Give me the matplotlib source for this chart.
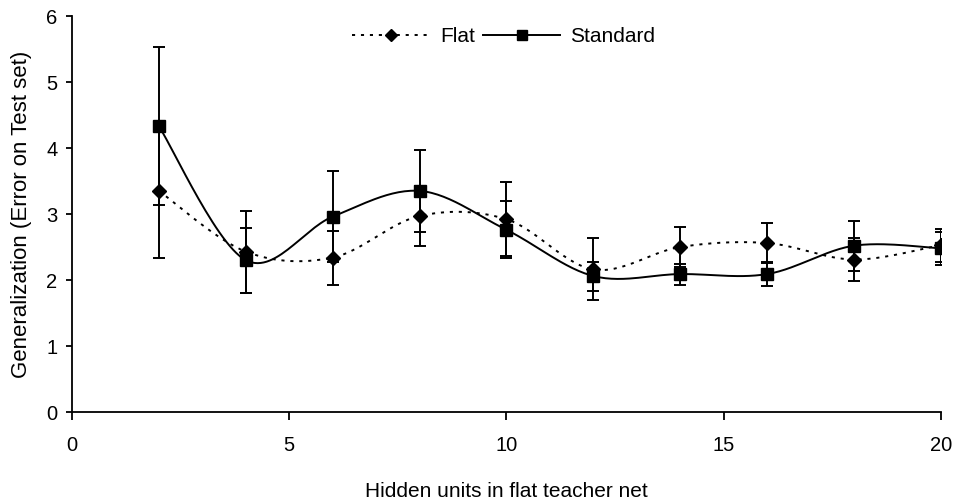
import numpy as np
import matplotlib
matplotlib.use("Agg")
import matplotlib.pyplot as plt
from matplotlib.lines import Line2D

x = [2, 4, 6, 8, 10, 12, 14, 16, 18, 20]
flat = [3.35, 2.43, 2.34, 2.97, 2.92, 2.16, 2.50, 2.56, 2.31, 2.53]
flat_err = [1.02, 0.62, 0.41, 0.45, 0.56, 0.47, 0.30, 0.30, 0.33, 0.25]
standard = [4.33, 2.30, 2.96, 3.35, 2.76, 2.06, 2.09, 2.09, 2.52, 2.48]
standard_err = [1.20, 0.49, 0.69, 0.62, 0.43, 0.22, 0.16, 0.18, 0.38, 0.25]

plt.rcParams['font.family'] = ['Liberation Sans', 'DejaVu Sans']

FS = 14.5
LW = 1.4
DOT = (0, (1.6, 3.0))


def smooth(xs, ys, n=30):
    # Excel-like smoothed line (Catmull-Rom style Bezier)
    xs = np.asarray(xs, float)
    ys = np.asarray(ys, float)
    P = np.column_stack([xs, ys])
    out = []
    for i in range(len(P) - 1):
        p0 = P[i - 1] if i > 0 else P[i]
        p1 = P[i]
        p2 = P[i + 1]
        p3 = P[i + 2] if i + 2 < len(P) else P[i + 1]
        c1 = p1 + (p2 - p0) / 6.0
        c2 = p2 - (p3 - p1) / 6.0
        t = np.linspace(0, 1, n)[:, None]
        b = ((1 - t) ** 3) * p1 + 3 * ((1 - t) ** 2) * t * c1 + 3 * (1 - t) * t ** 2 * c2 + t ** 3 * p2
        out.append(b if i == 0 else b[1:])
    B = np.vstack(out)
    return B[:, 0], B[:, 1]


fig = plt.figure(figsize=(9.56, 5.0), dpi=100)
ax = fig.add_axes([0.0753, 0.176, 0.909, 0.792])

sx, sy = smooth(x, flat)
ax.plot(sx, sy, color='black', lw=LW, ls=DOT)
ax.errorbar(x, flat, yerr=flat_err, fmt='D', color='black', ms=7.5,
            ecolor='black', elinewidth=LW, capsize=4.5, capthick=LW)

sx, sy = smooth(x, standard)
ax.plot(sx, sy, color='black', lw=LW, ls='-')
ax.errorbar(x, standard, yerr=standard_err, fmt='s', color='black', ms=8,
            ecolor='black', elinewidth=LW, capsize=4.5, capthick=LW)

ax.set_xlim(0, 20)
ax.set_ylim(0, 6)
ax.set_xticks([0, 5, 10, 15, 20])
ax.set_yticks([0, 1, 2, 3, 4, 5, 6])
for s in ['top', 'right']:
    ax.spines[s].set_visible(False)
for s in ['left', 'bottom']:
    ax.spines[s].set_linewidth(1.3)
ax.tick_params(direction='out', width=1.3, labelsize=FS)
ax.tick_params(axis='x', length=5.5, pad=12)
ax.tick_params(axis='y', length=4.5, pad=6)
ax.set_xlabel('Hidden units in flat teacher net', fontsize=15, labelpad=19)
ax.set_ylabel('Generalization (Error on Test set)', fontsize=16, labelpad=10)

handles = [
    Line2D([], [], color='black', lw=LW, ls=DOT, marker='D', ms=6.5),
    Line2D([], [], color='black', lw=LW, ls='-', marker='s', ms=6.5),
]
ax.legend(handles, ['Flat', 'Standard'], loc='center', bbox_to_anchor=(0.497, 0.947),
          ncol=2, frameon=False, fontsize=15, handlelength=3.7, columnspacing=0.4,
          handletextpad=0.5, borderpad=0, borderaxespad=0)

fig.savefig('out.png', dpi=100)
